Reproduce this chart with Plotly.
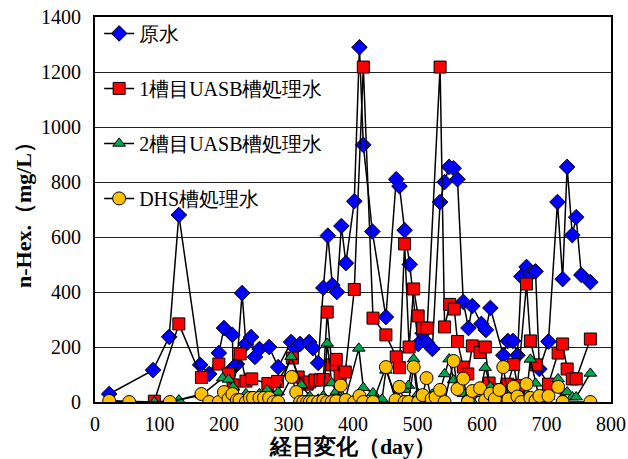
import plotly.graph_objects as go

# Elapsed days and n-Hex. concentration (mg/L) for each sampling point
raw_day = [22, 90, 115, 130, 163, 177, 192, 200, 213, 214, 220, 228, 234, 242, 248, 255, 270, 284,
           304, 310, 318, 332, 338, 346, 354, 361, 368, 375, 382, 389, 402, 410, 416, 430, 451, 467,
           472, 480, 488, 501, 508, 515, 523, 535, 542, 549, 556, 562, 571, 579, 585, 599, 606, 613,
           633, 640, 648, 655, 661, 669, 675, 683, 689, 703, 717, 725, 732, 740, 746, 754, 768]
raw_val = [29, 116, 237, 680, 135, 102, 178, 269, 244, 124, 138, 396, 211, 236, 164, 193, 200, 127,
           218, 196, 211, 218, 196, 142, 415, 605, 425, 400, 640, 505, 730, 1290, 935, 620, 309, 810,
           785, 625, 500, 211, 250, 215, 193, 727, 800, 855, 850, 810, 364, 269, 349, 284, 262, 342,
           170, 222, 222, 170, 456, 491, 465, 475, 120, 220, 727, 447, 855, 607, 672, 462, 436]

uasb1_day = [92, 130, 165, 192, 207, 214, 225, 234, 243, 268, 283, 306, 315, 323, 329, 333, 341, 349,
             354, 360, 367, 374, 380, 388, 402, 416, 431, 451, 467, 472, 480, 487, 494, 501, 508, 515,
             535, 542, 550, 557, 562, 571, 578, 585, 597, 605, 611, 627, 640, 649, 655, 669, 675, 684,
             703, 718, 725, 732, 740, 746, 768]
uasb1_val = [3, 284, 89, 138, 102, 62, 175, 76, 84, 67, 75, 160, 91, 69, 65, 73, 80, 80,
             82, 327, 135, 155, 95, 109, 409, 1218, 305, 244, 164, 125, 575, 200, 411, 313, 269, 269,
             1218, 273, 355, 338, 220, 127, 102, 204, 180, 200, 69, 45, 65, 136, 60, 429, 222, 135,
             65, 178, 211, 120, 84, 84, 229]

uasb2_day = [22, 92, 130, 165, 198, 207, 214, 220, 234, 247, 255, 267, 284, 304, 320, 333, 346, 354,
             360, 367, 374, 380, 388, 409, 416, 431, 445, 451, 467, 480, 486, 494, 501, 515, 523, 535,
             542, 549, 556, 562, 571, 578, 585, 597, 605, 613, 627, 633, 641, 649, 655, 661, 669, 675,
             683, 690, 703, 718, 725, 732, 740, 746, 768]
uasb2_val = [5, 0, 7, 25, 87, 82, 55, 10, 30, 18, 30, 44, 36, 165, 62, 20, 10, 22,
             213, 69, 38, 5, 10, 195, 52, 33, 10, 115, 18, 45, 60, 156, 30, 10, 28, 40,
             102, 156, 80, 50, 30, 20, 2, 30, 125, 55, 10, 2, 25, 30, 36, 2, 30, 155,
             68, 2, 20, 84, 15, 36, 18, 18, 104]

dhs_day = [22, 53, 116, 165, 177, 192, 200, 207, 213, 220, 224, 234, 240, 245, 255, 262, 270, 277,
           284, 305, 312, 318, 323, 329, 333, 338, 346, 354, 360, 367, 374, 381, 389, 402, 410, 416,
           431, 451, 466, 472, 480, 486, 494, 501, 508, 514, 522, 528, 535, 542, 556, 562, 571, 578,
           585, 597, 605, 613, 620, 627, 633, 641, 649, 655, 661, 669, 675, 683, 689, 703, 718, 725,
           768]
dhs_val = [4, 0, 0, 29, 0, 0, 36, 11, 29, 7, 7, 0, 15, 15, 15, 15, 15, 0,
           0, 91, 36, 0, 0, 0, 0, 0, 0, 5, 0, 0, 3, 60, 7, 0, 22, 0,
           0, 127, 7, 55, 0, 0, 127, 0, 25, 87, 11, 18, 44, 0, 149, 47, 85, 0,
           40, 50, 7, 30, 11, 44, 127, 10, 55, 20, 0, 65, 15, 5, 22, 22, 55, 0,
           0]

series = [
    ("原水", raw_day, raw_val, "diamond", "#0000FF", 12),
    ("1槽目UASB槽処理水", uasb1_day, uasb1_val, "square", "#FF0000", 12),
    ("2槽目UASB槽処理水", uasb2_day, uasb2_val, "triangle-up", "#00A550", 11),
    ("DHS槽処理水", dhs_day, dhs_val, "circle", "#FFC000", 13),
]

FONT = "Times New Roman, Liberation Serif, serif"

fig = go.Figure()
for i, (name, xs, ys, sym, col, size) in enumerate(series):
    fig.add_trace(go.Scatter(
        x=xs, y=ys, name=name, mode="lines+markers",
        legendgroup=f"g{i}",
        line=dict(color="black", width=1.5),
        marker=dict(symbol=sym, color=col, size=size,
                    line=dict(color="black", width=1)),
    ))

fig.update_layout(
    width=628, height=459,
    margin=dict(l=95, r=17, t=17, b=57, autoexpand=False),
    paper_bgcolor="white", plot_bgcolor="white",
    font=dict(family=FONT, size=20, color="black"),
    showlegend=True,
    legend=dict(x=0.008, y=1.008, xanchor="left", yanchor="top",
                bgcolor="rgba(0,0,0,0)", tracegroupgap=26,
                traceorder="grouped",
                font=dict(family=FONT, size=20, color="black")),
    xaxis=dict(range=[0, 800], dtick=100, showgrid=False, zeroline=False,
               showline=True, linecolor="black", linewidth=2, mirror=True,
               ticks="outside", ticklen=3, tickcolor="rgba(0,0,0,0)",
               tickfont=dict(size=20), automargin=False,
               title=dict(text="<b>経日変化（day）</b>", font=dict(size=22), standoff=6)),
    yaxis=dict(range=[0, 1400], dtick=200, showgrid=True, gridcolor="#222222",
               gridwidth=1.3, zeroline=False,
               showline=True, linecolor="black", linewidth=2, mirror=True,
               ticks="outside", ticklen=8, tickcolor="rgba(0,0,0,0)",
               tickfont=dict(size=20), automargin=False,
               title=dict(text="<b>n-Hex.（mg/L）</b>", font=dict(size=22), standoff=3)),
)

fig.write_html("out.html")
